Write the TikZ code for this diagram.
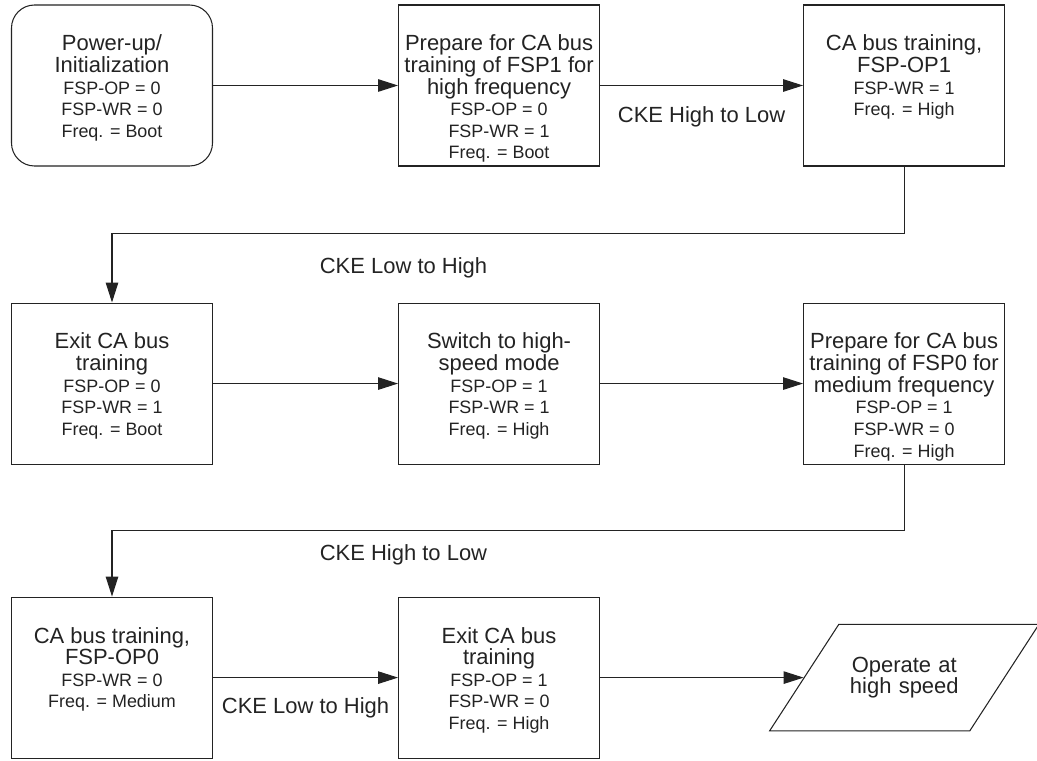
\documentclass[tikz,border=0pt]{standalone}
\usepackage{fontspec}
\setmainfont{Liberation Sans}
\usetikzlibrary{shapes.geometric, arrows.meta, positioning}

\definecolor{inkgrey}{RGB}{35, 35, 35}

% box text: title lines (large) + register lines (small), top aligned
\newcommand{\statetext}[2]{%
    \parbox[c][3.22cm][t]{4.02cm}{\centering\vspace*{0.6cm}%
        {\fontsize{12.5pt}{12.3pt}\selectfont #1\par}%
        {\fontsize{10.2pt}{12.3pt}\selectfont #2\par}}}

\begin{document}
\begin{tikzpicture}[
    node distance=2.72cm and 3.7cm,
    state/.style={
        rectangle, draw=inkgrey, line width=0.6pt, inner sep=0pt, text=inkgrey
    },
    startstate/.style={
        state, rounded corners=0.46cm
    },
    endstate/.style={
        trapezium, trapezium left angle=57, trapezium right angle=123,
        draw=inkgrey, line width=0.6pt, text width=2.3cm, inner xsep=0.16cm, inner ysep=0.65cm,
        align=center, text=inkgrey, font=\fontsize{12.5pt}{12.3pt}\selectfont
    },
    flow/.style={
        -{Triangle[length=0.4cm, width=0.25cm]}, line width=0.6pt, draw=inkgrey
    },
    cond/.style={
        font=\fontsize{12.5pt}{12.3pt}\selectfont, inner sep=0pt, text=inkgrey
    }
]
\useasboundingbox (0,0) rectangle (20.74,-15.22);

% Row 1: power-up -> prepare FSP1 -> training FSP-OP1
\node[startstate] (powerup) at (2.24,-1.71) {
    \statetext{Power-up/\\Initialization}{FSP-OP = 0\\FSP-WR = 0\\Freq. = Boot}
};

\node[state, right=3.7cm of powerup] (preparehigh) {
    \statetext{Prepare for CA bus\\training of FSP1 for\\high frequency}{FSP-OP = 0\\FSP-WR = 1\\Freq. = Boot}
};

\node[state, right=4.06cm of preparehigh] (trainop1) {
    \statetext{CA bus training,\\FSP-OP1}{FSP-WR = 1\\Freq. = High}
};

% Row 2: exit training -> switch -> prepare FSP0
\node[state, below=2.72cm of powerup] (exitone) {
    \statetext{Exit CA bus\\training}{FSP-OP = 0\\FSP-WR = 1\\Freq. = Boot}
};

\node[state, right=3.7cm of exitone] (switchhigh) {
    \statetext{Switch to high-\\speed mode}{FSP-OP = 1\\FSP-WR = 1\\Freq. = High}
};

\node[state, right=4.06cm of switchhigh] (preparemed) {
    \statetext{Prepare for CA bus\\training of FSP0 for\\medium frequency}{FSP-OP = 1\\FSP-WR = 0\\Freq. = High}
};

% Row 3: training FSP-OP0 -> exit training -> operate
\node[state, below=2.64cm of exitone] (trainop0) {
    \statetext{CA bus training,\\FSP-OP0}{FSP-WR = 0\\Freq. = Medium}
};

\node[state, right=3.7cm of trainop0] (exittwo) {
    \statetext{Exit CA bus\\training}{FSP-OP = 1\\FSP-WR = 0\\Freq. = High}
};

\node[endstate, right=4.07cm of exittwo] (operate) {Operate at\\high speed};

% Transitions
\draw[flow] (powerup) -- (preparehigh);
\draw[flow] (preparehigh) -- node[below=0.42cm, cond]{CKE High to Low} (trainop1);
\draw[flow] (trainop1.south) -- ++(0,-1.34) -| node[pos=0.316, below=0.48cm, cond]{CKE Low to High} (exitone.north);

\draw[flow] (exitone) -- (switchhigh);
\draw[flow] (switchhigh) -- (preparemed);
\draw[flow] (preparemed.south) -- ++(0,-1.32) -| node[pos=0.316, below=0.26cm, cond]{CKE High to Low} (trainop0.north);

\draw[flow] (trainop0) -- node[below=0.38cm, cond]{CKE Low to High} (exittwo);
\draw[flow] (exittwo) -- (operate);

\end{tikzpicture}
\end{document}
